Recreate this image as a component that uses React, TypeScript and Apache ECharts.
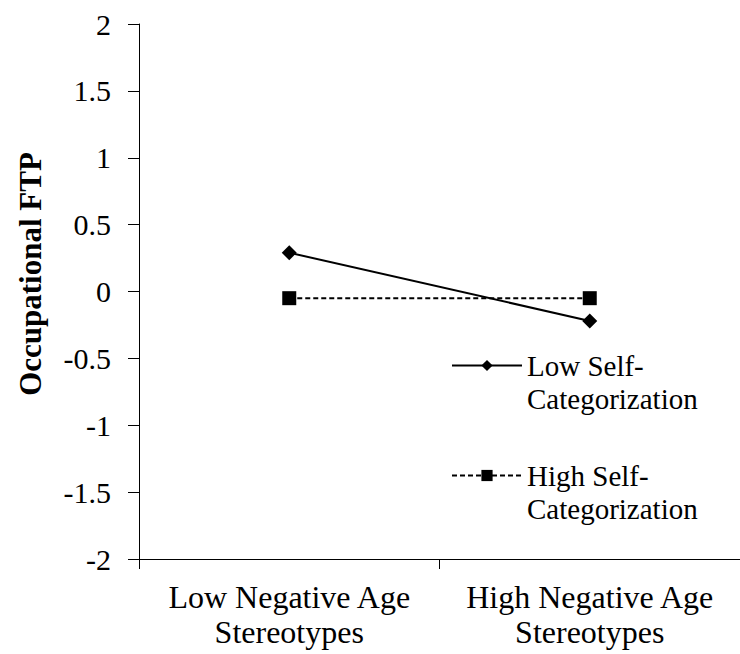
import React, { useEffect, useRef } from "react";
import * as echarts from "echarts";

const categories = ["Low Negative Age\nStereotypes", "High Negative Age\nStereotypes"];
const lowSelfCat = [0.29, -0.22];
const highSelfCat = [-0.05, -0.05];
const seriesNames = ["Low Self-Categorization", "High Self-Categorization"];
const legendLabels = ["Low Self-\nCategorization", "High Self-\nCategorization"];
const yTitle = "Occupational FTP";

const FONT = "Liberation Serif";

export default function App() {
  const ref = useRef<HTMLDivElement>(null);
  useEffect(() => {
    if (!ref.current) return;
    const chart = echarts.init(ref.current, undefined, { renderer: "svg" });
    const legendText = {
      fontFamily: FONT,
      fontSize: 29,
      lineHeight: 33,
      color: "#000",
    };
    chart.setOption({
      animation: false,
      backgroundColor: "#fff",
      textStyle: { fontFamily: FONT },
      grid: { left: 139, right: 0, top: 24, bottom: 95, containLabel: false },
      xAxis: {
        type: "category",
        data: categories,
        boundaryGap: true,
        axisLine: { onZero: false, lineStyle: { color: "#000", width: 1 } },
        axisTick: { show: true, length: 10, lineStyle: { color: "#000" } },
        axisLabel: {
          fontFamily: FONT,
          fontSize: 32,
          lineHeight: 35,
          color: "#000",
          margin: 20,
          interval: 0,
        },
        splitLine: { show: false },
      },
      yAxis: {
        type: "value",
        min: -2,
        max: 2,
        interval: 0.5,
        axisLine: { show: true, lineStyle: { color: "#000", width: 1 } },
        axisTick: { show: true, length: 11, lineStyle: { color: "#000" } },
        axisLabel: { fontFamily: FONT, fontSize: 30, color: "#000", margin: 28 },
        splitLine: { show: false },
      },
      legend: [
        {
          data: [seriesNames[0]],
          left: 451,
          top: 316,
          padding: 0,
          itemWidth: 70,
          itemHeight: 14,
          selectedMode: false,
          formatter: () => "\n" + legendLabels[0],
          textStyle: legendText,
        },
        {
          data: [seriesNames[1]],
          left: 451,
          top: 426,
          padding: 0,
          itemWidth: 70,
          itemHeight: 14,
          selectedMode: false,
          formatter: () => "\n" + legendLabels[1],
          textStyle: legendText,
        },
      ],
      graphic: [
        {
          type: "text",
          x: 30,
          y: 274,
          rotation: Math.PI / 2,
          style: {
            text: yTitle,
            fontFamily: FONT,
            fontSize: 31,
            fontWeight: "bold",
            fill: "#000",
            align: "center",
            verticalAlign: "middle",
          },
        },
      ],
      series: [
        {
          name: seriesNames[0],
          type: "line",
          data: lowSelfCat,
          symbol: "diamond",
          symbolSize: 15,
          itemStyle: { color: "#000" },
          lineStyle: { color: "#000", width: 2, type: "solid" },
        },
        {
          name: seriesNames[1],
          type: "line",
          data: highSelfCat,
          symbol: "rect",
          symbolSize: 14,
          itemStyle: { color: "#000" },
          lineStyle: { color: "#000", width: 2, type: [5, 3] },
        },
      ],
    });
    return () => chart.dispose();
  }, []);
  return <div ref={ref} style={{ width: 740, height: 654, position: "absolute", left: 0, top: 0 }} />;
}
